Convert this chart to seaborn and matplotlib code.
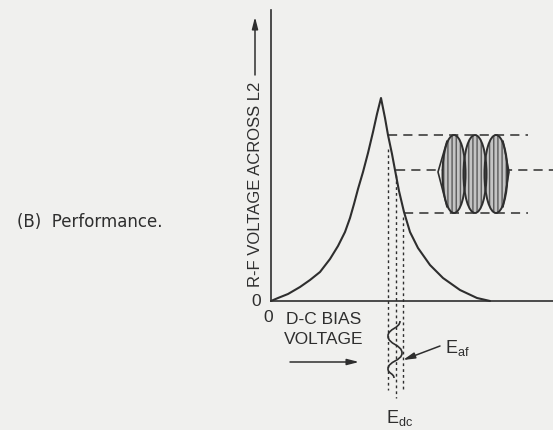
import matplotlib
matplotlib.use("Agg")
import matplotlib.pyplot as plt
import seaborn as sns
from matplotlib.patches import Ellipse, PathPatch
from matplotlib.path import Path

# characteristic (arbitrary units, origin at axes corner)
bias = [0, 7, 17, 29, 39, 49, 59, 67, 74, 79, 83, 87, 92, 97, 102, 106, 110,
        114, 117, 121, 124, 128, 133, 139, 147, 159, 172, 189, 206, 219]
rf = [0, 3, 7, 14, 21, 29, 42, 55, 69, 83, 97, 112, 129, 148, 169, 187, 203,
      183, 166, 147, 131, 110, 89, 69, 53, 36, 23, 11, 3, 0]

# operating swing: top / centre / bottom levels of the r-f output
swing_rf = [166, 131, 88]
swing_start = [117, 125, 133]
swing_end = [257, 282, 257]

# dotted projections down to the bias axis
proj_x = [117, 125, 132]
proj_top = [152, 126, 84]
proj_bottom = [-89, -97, -89]

# modulated r-f envelope (three lobes)
lobe_x = [183, 204, 225]
lobe_y = 127
lobe_w = 23
lobe_h = 78
tip_left = (167, 129)
tip_right = (238, 129)

# a-f signal swing (turning points of the wave)
af_x = [129, 117, 131, 117, 123]
af_y = [-20, -35, -52, -68, -77]

ink = "#2e2e2e"
paper = "#f0f0ee"

sns.set_style("white")
plt.rcParams["font.family"] = ["Liberation Sans", "DejaVu Sans"]

fig = plt.figure(figsize=(5.53, 4.30), dpi=100, facecolor=paper)
ax = fig.add_axes([271 / 553, 129 / 430, 282 / 553, 291 / 430])
ax.set_facecolor(paper)
ax.set_xlim(0, 282)
ax.set_ylim(0, 291)
for s in ["top", "right"]:
    ax.spines[s].set_visible(False)
for s in ["left", "bottom"]:
    ax.spines[s].set_color(ink)
    ax.spines[s].set_linewidth(1.2)
ax.set_xticks([])
ax.set_yticks([])

sns.lineplot(x=bias, y=rf, color=ink, linewidth=1.5, ax=ax, clip_on=False)

# dashed level lines
for y, x0, x1 in zip(swing_rf, swing_start, swing_end):
    ax.plot([x0, x1], [y, y], color=ink, lw=1.1, dashes=(6, 4), clip_on=False)

# dotted projections
for x, y0, y1 in zip(proj_x, proj_top, proj_bottom):
    ax.plot([x, x], [y0, y1], color=ink, lw=1.0, dashes=(2, 2.2), clip_on=False)

# envelope lobes
for cx in lobe_x:
    ax.add_patch(Ellipse((cx, lobe_y), lobe_w, lobe_h, facecolor="#c4c4c4",
                         edgecolor="#5a5a5a", hatch="||||", lw=0, zorder=3))
    ax.add_patch(Ellipse((cx, lobe_y), lobe_w, lobe_h, facecolor="none",
                         edgecolor=ink, lw=1.4, zorder=4))
ax.plot([lobe_x[0] - 7, tip_left[0], lobe_x[0] - 7],
        [lobe_y + 33, tip_left[1], lobe_y - 33], color=ink, lw=1.2, zorder=4)
ax.plot([lobe_x[-1] + 7, tip_right[0], lobe_x[-1] + 7],
        [lobe_y + 33, tip_right[1], lobe_y - 33], color=ink, lw=1.2, zorder=4)

# a-f wave drawn as smooth S segments through the turning points
verts = [(af_x[0], af_y[0])]
codes = [Path.MOVETO]
for i in range(1, len(af_x)):
    d = af_y[i] - af_y[i - 1]
    verts += [(af_x[i - 1], af_y[i - 1] + 0.5 * d), (af_x[i], af_y[i] - 0.5 * d), (af_x[i], af_y[i])]
    codes += [Path.CURVE4] * 3
ax.add_patch(PathPatch(Path(verts, codes), facecolor="none", edgecolor=ink, lw=1.2, clip_on=False))

arrow = dict(arrowstyle="-|>,head_length=0.7,head_width=0.18", color=ink, lw=1.1,
             shrinkA=0, shrinkB=0)

# axis labels
ax.text(-16, 14, "R-F VOLTAGE ACROSS L2", rotation=90, ha="center", va="bottom",
        fontsize=12, color=ink, clip_on=False)
ax.annotate("", xy=(-16, 284), xytext=(-16, 226), arrowprops=arrow, annotation_clip=False)
ax.text(-15, 0, "0", ha="center", va="center", fontsize=12.5, color=ink, clip_on=False)
ax.text(-3, -17, "0", ha="center", va="center", fontsize=12.5, color=ink, clip_on=False)
ax.text(53, -18, "D-C BIAS", ha="center", va="center", fontsize=12.5, color=ink, clip_on=False)
ax.text(53, -39, "VOLTAGE", ha="center", va="center", fontsize=12.5, color=ink, clip_on=False)
ax.annotate("", xy=(88, -61), xytext=(19, -61), arrowprops=arrow, annotation_clip=False)

ax.text(115, -117, r"E$_{\mathregular{dc}}$", ha="left", va="center", fontsize=13,
        color=ink, clip_on=False)
ax.text(174, -47, r"E$_{\mathregular{af}}$", ha="left", va="center", fontsize=13,
        color=ink, clip_on=False)
ax.annotate("", xy=(132, -59), xytext=(169, -45), arrowprops=arrow, annotation_clip=False)

ax.text(-254, 79, "(B)  Performance.", ha="left", va="center", fontsize=12,
        family="DejaVu Sans", color=ink, clip_on=False)

fig.savefig("out.png", dpi=100, facecolor=paper)
